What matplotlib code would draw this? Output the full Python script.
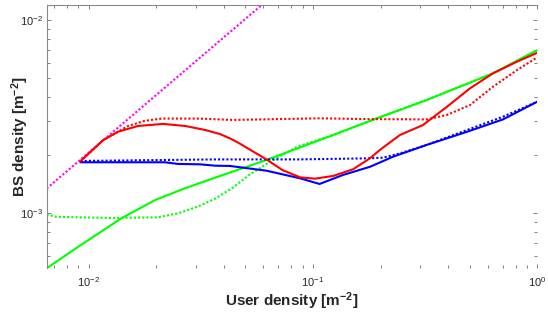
import numpy as np
import matplotlib
matplotlib.use('Agg')
import matplotlib.pyplot as plt
from matplotlib.ticker import LogLocator, NullFormatter

plt.rcParams['font.family'] = ['Liberation Sans', 'DejaVu Sans']
plt.rcParams['mathtext.fontset'] = 'custom'
plt.rcParams['mathtext.rm'] = 'Liberation Sans'
plt.rcParams['mathtext.bf'] = 'Liberation Sans:bold'
plt.rcParams['mathtext.it'] = 'Liberation Sans:italic'
plt.rcParams['mathtext.default'] = 'regular'

# ── data (user density vs BS density) ───────────────────────────────────────
red_x = [0.0092, 0.0116, 0.0135, 0.0166, 0.0215, 0.0269, 0.033, 0.0385, 0.043, 0.047,
         0.054, 0.062, 0.073, 0.0875, 0.102, 0.123, 0.151, 0.18, 0.199, 0.244, 0.309,
         0.396, 0.501, 0.635, 0.812, 1.0]
red_solid = [1.86e-3, 2.39e-3, 2.64e-3, 2.83e-3, 2.90e-3, 2.83e-3, 2.70e-3, 2.57e-3,
             2.43e-3, 2.30e-3, 2.09e-3, 1.90e-3, 1.675e-3, 1.535e-3, 1.51e-3, 1.56e-3,
             1.69e-3, 1.93e-3, 2.13e-3, 2.54e-3, 2.86e-3, 3.56e-3, 4.43e-3, 5.30e-3,
             6.09e-3, 6.77e-3]

red_dot_x = [0.0092, 0.0116, 0.015, 0.0178, 0.0212, 0.0313, 0.044, 0.107, 0.18,
             0.322, 0.396, 0.501, 0.635, 0.812, 1.0]
red_dot = [1.86e-3, 2.39e-3, 2.83e-3, 3.01e-3, 3.09e-3, 3.09e-3, 3.04e-3, 3.10e-3,
           3.07e-3, 3.06e-3, 3.23e-3, 3.63e-3, 4.52e-3, 5.51e-3, 6.41e-3]

blue_x = [0.0092, 0.0219, 0.025, 0.0313, 0.0366, 0.0427, 0.062, 0.0875, 0.107,
          0.136, 0.18, 0.227, 0.322, 0.486, 0.703, 1.0]
blue_solid = [1.836e-3, 1.836e-3, 1.80e-3, 1.792e-3, 1.763e-3, 1.757e-3, 1.661e-3,
              1.517e-3, 1.418e-3, 1.578e-3, 1.742e-3, 1.96e-3, 2.26e-3, 2.64e-3,
              3.06e-3, 3.78e-3]

blue_dot_x = [0.0092, 0.0366, 0.0875, 0.18, 0.205, 0.244, 0.322, 0.703, 1.0]
blue_dot = [1.865e-3, 1.90e-3, 1.90e-3, 1.925e-3, 1.94e-3, 2.04e-3, 2.26e-3,
            3.16e-3, 3.78e-3]

green_x = [0.0065, 0.009, 0.014, 0.0198, 0.0269, 0.0366, 0.062, 0.123, 0.18,
           0.322, 0.635, 1.0]
green_solid = [0.519e-3, 0.672e-3, 0.942e-3, 1.172e-3, 1.347e-3, 1.528e-3, 1.887e-3,
               2.54e-3, 3.01e-3, 3.86e-3, 5.30e-3, 6.99e-3]

green_dot_x = [0.0065, 0.0071, 0.009, 0.0127, 0.0204, 0.0251, 0.0308, 0.0366, 0.0441,
               0.052, 0.062, 0.085, 0.123, 0.18, 0.322, 0.635, 1.0]
green_dot = [0.988e-3, 0.960e-3, 0.953e-3, 0.946e-3, 0.953e-3, 1.0e-3, 1.085e-3,
             1.19e-3, 1.36e-3, 1.58e-3, 1.80e-3, 2.21e-3, 2.54e-3, 3.01e-3, 3.86e-3,
             5.30e-3, 6.99e-3]

magenta_x = [0.0065, 0.0591]
magenta = [1.344e-3, 1.196e-2]

fig = plt.figure(figsize=(5.48, 3.12), dpi=100)
ax = fig.add_axes([0.0852, 0.140, 0.8953, 0.844])

lw = 1.5
dot = (0, (1, 1))
ax.loglog(magenta_x, magenta, ls=dot, color=(1, 0, 1), lw=lw)
ax.loglog(green_dot_x, green_dot, ls=dot, color=(0, 1, 0), lw=lw)
ax.loglog(green_x, green_solid, '-', color=(0, 1, 0), lw=lw)
ax.loglog(blue_dot_x, blue_dot, ls=dot, color=(0, 0, 1), lw=lw)
ax.loglog(blue_x, blue_solid, '-', color=(0, 0, 1), lw=lw)
ax.loglog(red_dot_x, red_dot, ls=dot, color=(1, 0, 0), lw=lw)
ax.loglog(red_x, red_solid, '-', color=(1, 0, 0), lw=lw)

ax.set_xlim(0.0065, 1.0)
ax.set_ylim(5.19e-4, 1.196e-2)

ax.xaxis.set_major_locator(LogLocator(base=10))
ax.yaxis.set_major_locator(LogLocator(base=10))
ax.xaxis.set_minor_locator(LogLocator(base=10, subs=np.arange(2, 10)))
ax.yaxis.set_minor_locator(LogLocator(base=10, subs=np.arange(2, 10)))
ax.xaxis.set_minor_formatter(NullFormatter())
ax.yaxis.set_minor_formatter(NullFormatter())

for s in ['left', 'top']:
    ax.spines[s].set_color('#8a8a8a')
    ax.spines[s].set_linewidth(0.8)
for s in ['bottom', 'right']:
    ax.spines[s].set_visible(False)

ax.tick_params(which='both', direction='in', top=True, right=True,
               color='#6a6a6a', width=0.6, labelsize=8, labelcolor='#262626')
ax.tick_params(which='major', length=3)
ax.tick_params(which='minor', length=2)
ax.tick_params(axis='x', pad=5)
ax.tick_params(axis='y', pad=3)

ax.set_xlabel(r'User density [m$\mathbf{^{-2}}$]', fontsize=11, fontweight='bold',
              color='#262626')
ax.set_ylabel(r'BS density [m$\mathbf{^{-2}}$]', fontsize=11, fontweight='bold',
              color='#262626')
ax.xaxis.set_label_coords(0.5, -0.124)
ax.xaxis.label.set_va('center')
ax.yaxis.set_label_coords(-0.054, 0.5)
ax.yaxis.label.set_va('center')

fig.savefig('out.png', dpi=100)
